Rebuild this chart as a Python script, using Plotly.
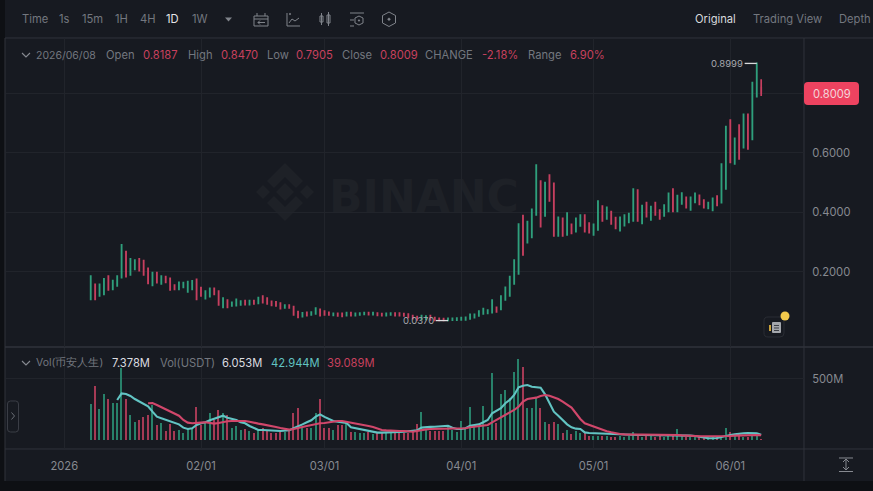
import pandas as pd
import plotly.graph_objects as go

W, H = 873, 491
BG = "#171a21"
OUTER = "#0e1014"
FRAME = "#30333b"
GRID = "#21242b"
MUTED = "#73777f"
TICK = "#878a91"
UP = "#2f9f7c"
DOWN = "#c63f5f"
VOL_UP = "#28816a"
VOL_DOWN = "#a63a55"
MA_FAST = "#62c4c3"
MA_SLOW = "#d1476b"

first_day = "2026-01-07"

# Daily candles, 2026-01-07 to 2026-06-08
open_ = [
    .1083,.1587,.1195,.1251,.1866,.1419,.1531,.181,.2683,.19,.209,.2437,.2381,.2124,.1553,.1978,
    .1598,.1844,.1788,.1564,.1419,.1486,.1329,.1419,.1754,.1475,.1106,.1173,.1452,.1363,.0815,.1061,
    .086,.0871,.0893,.1039,.0904,.1039,.0949,.1195,.1128,.1016,.0994,.096,.0792,.0893,.0837,.0669,
    .0502,.0646,.0557,.0591,.0747,.0691,.0646,.0546,.0613,.0613,.0535,.0635,.0535,.0557,.0579,.0635,
    .0568,.0624,.0602,.0535,.0557,.0624,.0624,.0602,.059,.0535,.0501,.04,.0411,.0535,.0467,.0445,
    .0434,.0372,.038,.0385,.0389,.0389,.0423,.0467,.0523,.059,.0613,.0635,.0814,.0747,.106,.1194,
    .1597,.1933,.389,.2984,.3163,.3913,.5054,.3879,.5255,.4976,.3208,.3801,.3242,.36,.3354,.3544,
    .3913,.3644,.3242,.341,.4215,.3779,.4025,.3823,.3387,.3555,.3667,.3712,.4752,.3633,.4327,.3745,
    .4327,.4081,.3879,.4036,.4785,.4036,.4282,.4506,.4081,.4338,.4573,.4416,.4137,.407,.455,.4327,
    .4785,.7101,.5624,.6933,.6172,.7291,.6452,.7884,.8187,
]
high = [
    .1866,.1587,.1587,.1766,.1866,.171,.1866,.2907,.2683,.2437,.2403,.2437,.2381,.2124,.1978,.1978,
    .1866,.1844,.1788,.1564,.1654,.1643,.1676,.1699,.1754,.1475,.1363,.1452,.1452,.1363,.1128,.1061,
    .0983,.1083,.1027,.1039,.1039,.1039,.1139,.1195,.1128,.1016,.0994,.096,.0893,.0893,.0837,.0669,
    .0625,.0646,.0658,.0792,.0747,.0691,.0646,.0613,.0613,.0613,.0635,.0635,.0613,.0624,.0635,.0635,
    .0635,.0624,.0602,.0613,.0624,.0624,.0624,.0602,.059,.0535,.0501,.0535,.0523,.0535,.0467,.0445,
    .0434,.0445,.0445,.0456,.0467,.0479,.0579,.0579,.0691,.0769,.0725,.106,.0814,.1194,.1485,.1843,
    .2403,.3611,.389,.3689,.4103,.5591,.5054,.4998,.5255,.4976,.3835,.3801,.398,.36,.3801,.3913,
    .3913,.3644,.36,.4383,.4215,.417,.4025,.3823,.3835,.3913,.3958,.4785,.4752,.4226,.4327,.4192,
    .4327,.4081,.4248,.464,.4785,.4562,.4651,.4506,.4506,.464,.4573,.4416,.4327,.4472,.455,.5624,
    .6877,.7101,.6486,.6933,.7291,.7291,.8354,.8999,.8470,
]
low = [
    .1083,.1083,.1195,.1251,.1397,.1419,.1531,.181,.1844,.19,.209,.2045,.19,.162,.1553,.1643,
    .1598,.1654,.1397,.1419,.1419,.1486,.1329,.1419,.1083,.1195,.1106,.1173,.125,.0893,.0815,.0815,
    .086,.0871,.0893,.0904,.0904,.0927,.0949,.0971,.0927,.0882,.086,.077,.0792,.0792,.0558,.0479,
    .0502,.0524,.0557,.0591,.0535,.0557,.0557,.0546,.0523,.0512,.0535,.0535,.0535,.0557,.0579,.0568,
    .0568,.0546,.0535,.0535,.0557,.0535,.0535,.0523,.0479,.0434,.0389,.04,.0411,.0389,.0372,.0375,
    .0372,.037,.038,.0385,.0389,.0389,.0423,.0467,.0523,.059,.0613,.0635,.0658,.0747,.106,.1194,
    .1597,.1933,.257,.2984,.3163,.3913,.3521,.3879,.4383,.3208,.3208,.3208,.3242,.3298,.3354,.3544,
    .3354,.332,.3242,.341,.3712,.3779,.3611,.3466,.3387,.3555,.3667,.3712,.3712,.3633,.3857,.3745,
    .3913,.3779,.3879,.4036,.4036,.4036,.4282,.4159,.4081,.4338,.4271,.4159,.4137,.407,.4237,.4327,
    .4785,.568,.5624,.5792,.6172,.6128,.6452,.7884,.7905,
]
close = [
    .1866,.1083,.1587,.1766,.1397,.171,.1866,.2907,.1844,.2437,.2403,.2045,.19,.162,.1978,.1643,
    .1866,.1654,.1397,.1419,.1654,.1643,.1676,.1699,.1083,.1195,.1363,.1452,.125,.0893,.1128,.0815,
    .0983,.1083,.1027,.0904,.1039,.0927,.1139,.0971,.0927,.0882,.086,.077,.0893,.0792,.0558,.0479,
    .0625,.0535,.0658,.0792,.0535,.0557,.0557,.0613,.0523,.0512,.0635,.0535,.0613,.0624,.0635,.0568,
    .0635,.0546,.0535,.0613,.0624,.0535,.0535,.0523,.0479,.0434,.0389,.0535,.0523,.0389,.0372,.0375,
    .0372,.0445,.0445,.0456,.0467,.0479,.0579,.0579,.0691,.0769,.0725,.106,.0658,.1194,.1485,.1843,
    .2403,.3611,.257,.3689,.4103,.5591,.3521,.4998,.4383,.3208,.3835,.3208,.398,.3298,.3801,.3913,
    .3354,.332,.36,.4383,.3712,.417,.3611,.3466,.3835,.3913,.3958,.4785,.3712,.4226,.3857,.4192,
    .3913,.3779,.4248,.464,.4036,.4562,.4651,.4159,.4506,.464,.4271,.4159,.4327,.4472,.4237,.5624,
    .6877,.568,.6486,.5792,.7291,.6128,.8354,.8999,.8009,
]

# Traded volume per day, in millions
volume = [
    292,445,251,380,333,300,306,587,336,205,145,161,191,205,287,123,137,74,131,74,82,60,101,101,
    273,123,137,219,164,246,219,205,96,115,82,90,74,60,82,101,74,60,60,68,68,82,219,260,
    109,96,101,219,336,96,96,82,123,123,137,68,63,60,60,63,46,55,55,55,55,63,63,55,
    55,63,128,232,82,74,74,74,74,123,82,68,156,96,273,109,109,279,109,546,137,374,410,341,
    560,664,596,260,260,341,260,145,128,150,128,55,82,46,74,55,55,35,30,33,30,30,28,28,
    30,28,30,63,33,28,30,33,28,30,28,33,33,90,30,28,28,30,28,28,28,25,28,33,
    95,63,33,30,28,28,33,30,7.378,
]

# Volume moving averages, each starting once its window has filled
ma_fast = [
    328,382,377,361,336,314,295,276,232,191,178,164,156,142,128,101,90,96,123,137,145,161,172,186,
    199,183,172,164,145,137,115,101,82,82,82,79,76,74,76,79,96,115,128,145,161,191,210,189,
    172,156,150,145,139,104,96,87,79,74,68,60,60,60,60,63,66,68,71,74,79,101,107,107,
    109,112,115,117,101,90,90,96,117,123,128,145,164,219,238,260,301,328,369,432,445,451,437,434,
    429,374,301,232,199,164,128,104,93,90,62,57,55,55,52,52,49,46,46,44,41,41,41,41,
    41,41,41,41,38,38,38,36,36,36,36,33,27,16,14,14,16,25,36,41,46,52,55,57,
    57,55,42.944,
]
ma_slow = [
    301,303,287,270,254,238,219,199,164,142,137,137,142,145,142,134,139,148,153,156,156,158,156,150,
    145,134,128,123,115,107,98,93,85,90,96,107,115,123,131,137,139,145,153,156,156,150,142,134,
    128,123,115,107,96,82,79,76,76,74,74,71,68,74,82,87,90,90,93,93,93,90,90,93,
    96,104,109,115,117,123,145,164,183,205,224,246,273,314,336,341,347,361,369,363,352,336,314,292,
    265,219,172,137,123,109,93,79,71,63,55,49,46,46,46,44,44,44,44,44,44,44,41,41,
    41,38,38,36,33,30,30,27,27,27,27,30,33,36,38,41,41,41,41,39.089,
]

price_ticks = [0.2, 0.4, 0.6, 0.8]
price_labels = ["0.2000", "0.4000", "0.6000", ""]
volume_ticks = [500]
volume_labels = ["500M"]
month_ticks = ["2026-01-01", "2026-02-01", "2026-03-01", "2026-04-01", "2026-05-01", "2026-06-01"]
month_labels = ["2026", "02/01", "03/01", "04/01", "05/01", "06/01"]

days = pd.date_range(first_day, periods=len(close), freq="D")
fast_days = days[len(days) - len(ma_fast):]
slow_days = days[len(days) - len(ma_slow):]
bar_colors = [VOL_UP if c >= o else VOL_DOWN for o, c in zip(open_, close)]


def px(x):
    return x / W


def py(y):
    return 1 - y / H


def pts(points, closed=False):
    d = "M" + " L".join(f"{px(x):.5f},{py(y):.5f}" for x, y in points)
    return d + (" Z" if closed else "")


def rounded(x0, y0, x1, y1, r):
    return (
        f"M{px(x0 + r):.5f},{py(y0):.5f} L{px(x1 - r):.5f},{py(y0):.5f} "
        f"Q{px(x1):.5f},{py(y0):.5f} {px(x1):.5f},{py(y0 + r):.5f} "
        f"L{px(x1):.5f},{py(y1 - r):.5f} Q{px(x1):.5f},{py(y1):.5f} {px(x1 - r):.5f},{py(y1):.5f} "
        f"L{px(x0 + r):.5f},{py(y1):.5f} Q{px(x0):.5f},{py(y1):.5f} {px(x0):.5f},{py(y1 - r):.5f} "
        f"L{px(x0):.5f},{py(y0 + r):.5f} Q{px(x0):.5f},{py(y0):.5f} {px(x0 + r):.5f},{py(y0):.5f} Z"
    )


shapes = []


def stroke(d, color=TICK, width=1.0, layer="above"):
    shapes.append(dict(type="path", path=d, xref="paper", yref="paper",
                       line=dict(color=color, width=width), layer=layer))


def fill(d, color, layer="above"):
    shapes.append(dict(type="path", path=d, xref="paper", yref="paper",
                       fillcolor=color, line=dict(width=0), layer=layer))


def diamond(cx, cy, r):
    return pts([(cx, cy - r), (cx + r, cy), (cx, cy + r), (cx - r, cy)], True)


# Window surround and pane frame
fill(pts([(0, 0), (5, 0), (5, 491), (0, 491)], True), OUTER, "below")
fill(pts([(0, 481), (873, 481), (873, 491), (0, 491)], True), OUTER, "below")
stroke(pts([(5, 38), (873, 38)]), FRAME, 1, "below")
stroke(pts([(5, 38), (5, 481)]), FRAME, 1, "below")
stroke(pts([(5, 347), (873, 347)]), FRAME, 1.5, "below")
stroke(pts([(5, 449), (873, 449)]), FRAME, 1, "below")
stroke(pts([(804, 38), (804, 481)]), FRAME, 1, "below")

# Watermark logo and wordmark
WM = "#1e2127"
cx, cy = 285, 192
fill(diamond(cx, cy, 9), WM, "below")
fill(diamond(cx - 22, cy, 7), WM, "below")
fill(diamond(cx + 22, cy, 7), WM, "below")
fill(pts([(cx, cy - 29), (cx + 18, cy - 11), (cx + 11, cy - 4), (cx, cy - 15), (cx - 11, cy - 4), (cx - 18, cy - 11)], True), WM, "below")
fill(pts([(cx, cy + 29), (cx + 18, cy + 11), (cx + 11, cy + 4), (cx, cy + 15), (cx - 11, cy + 4), (cx - 18, cy + 11)], True), WM, "below")
shapes.append(dict(type="rect", xref="paper", yref="paper", x0=px(326), x1=px(570), y0=py(215), y1=py(171),
                   line=dict(width=0), fillcolor="rgba(0,0,0,0)", layer="below",
                   label=dict(text="<b>BINANC</b>", textposition="middle left", padding=0,
                              font=dict(family="DejaVu Sans", size=44, color=WM))))

# Toolbar icons
ICON = "#80848b"
stroke(pts([(254, 16), (268, 16), (268, 26), (254, 26)], True), ICON)
stroke(pts([(254, 19), (268, 19)]), ICON)
stroke(pts([(257, 13), (257, 16)]), ICON)
stroke(pts([(265, 13), (265, 16)]), ICON)
stroke(pts([(265, 22.5), (258, 22.5)]), ICON)
stroke(pts([(260, 20.5), (258, 22.5), (260, 24.5)]), ICON)
stroke(pts([(287, 13), (287, 26), (300, 26)]), ICON)
stroke(pts([(289, 23), (292, 19), (295, 21), (299, 18)]), ICON)
fill(diamond(290, 14, 1.2), ICON)
stroke(pts([(320, 16), (323, 16), (323, 22), (320, 22)], True), ICON)
stroke(pts([(321.5, 13), (321.5, 25)]), ICON)
stroke(pts([(327, 15), (330, 15), (330, 23), (327, 23)], True), ICON)
stroke(pts([(328.5, 12), (328.5, 26)]), ICON)
stroke(pts([(350, 13), (364, 13)]), ICON)
stroke(pts([(350, 20), (354, 20)]), ICON)
stroke(pts([(350, 26), (354, 26)]), ICON)
stroke(pts([(359, 16), (363, 18), (363, 23), (359, 25), (355, 23), (355, 18)], True), ICON)
fill(diamond(359, 20.5, 1.3), ICON)
stroke(pts([(389, 12), (395.5, 15.5), (395.5, 23), (389, 26.5), (382.5, 23), (382.5, 15.5)], True), ICON)
fill(diamond(389, 19.3, 1.8), ICON)
fill(pts([(225, 17.5), (232, 17.5), (228.5, 21.5)], True), ICON)

# Collapse chevrons in the two legends
stroke(pts([(22, 53), (26, 57), (30, 53)]), TICK, 1.1)
stroke(pts([(22, 361), (26, 365), (30, 361)]), TICK, 1.1)

# Last price flag
fill(rounded(804, 82, 859, 105, 4), "#ee4360")

# Side handle, pane scaling button
stroke(rounded(7.5, 401, 18.5, 432, 3), "#3b3e46", 1)
stroke(pts([(11.5, 412.5), (14.5, 416), (11.5, 419.5)]), "#696d75", 1)
stroke(pts([(839, 458), (853, 458)]), TICK)
stroke(pts([(839, 471.5), (853, 471.5)]), TICK)
stroke(pts([(846, 459), (846, 470)]), TICK)
stroke(pts([(843, 462), (846, 459), (849, 462)]), TICK)
stroke(pts([(843, 467), (846, 470), (849, 467)]), TICK)

# Notes badge
stroke(rounded(764, 317, 784, 337, 4), "#2a2d34", 1)
fill(rounded(772, 322, 781, 333, 1), "#a4a7ac")
stroke(pts([(774, 325.5), (779, 325.5)]), "#3c3f46", 1)
stroke(pts([(774, 328), (779, 328)]), "#3c3f46", 1)
stroke(pts([(774, 330.5), (779, 330.5)]), "#3c3f46", 1)
fill(pts([(769, 325), (771, 325), (771, 331), (769, 331)], True), "#c9a13a")
shapes.append(dict(type="circle", xref="paper", yref="paper", x0=px(780.5), x1=px(789.5), y0=py(320.5), y1=py(311.5),
                   fillcolor="#f2c94c", line=dict(width=0), layer="above"))

# Extreme price markers, tied to the price scale
shapes.append(dict(type="line", xref="x", yref="y", x0="2026-06-04 06:00", x1="2026-06-07", y0=.8999, y1=.8999,
                   line=dict(color="#d9dadc", width=1.3)))
shapes.append(dict(type="line", xref="x", yref="y", x0="2026-03-26 06:00", x1="2026-03-29", y0=.037, y1=.037,
                   line=dict(color="#d9dadc", width=1.3)))

annotations = []


def text(x, y, s, color=MUTED, size=11.2, anchor="left"):
    annotations.append(dict(xref="paper", yref="paper", x=px(x), y=py(y), text=s, showarrow=False,
                            xanchor=anchor, yanchor="middle", borderpad=0,
                            font=dict(family="Inter", size=size, color=color)))


# Interval bar
for x, s, c in [(21, "Time", MUTED), (58, "1s", MUTED), (81, "15m", MUTED), (114, "1H", MUTED), (139, "4H", MUTED),
                (165, "1D", "#e4e5e7"), (191, "1W", MUTED)]:
    text(x, 19, s, c)
text(694, 19, "Original", "#d8d9dc")
text(752, 19, "Trading View", MUTED)
text(838, 19, "Depth", MUTED)

# OHLC legend
RED = "#c8415e"
text(35, 55, "2026/06/08", MUTED, 10.5)
for x, s, c in [(105, "Open", MUTED), (142, "0.8187", RED), (187, "High", MUTED),
                (220, "0.8470", RED), (266, "Low", MUTED), (295, "0.7905", RED), (341, "Close", MUTED),
                (379, "0.8009", RED), (424, "CHANGE", MUTED), (481, "-2.18%", RED), (527, "Range", MUTED),
                (569, "6.90%", RED)]:
    text(x, 55, s, c)

# Volume legend
text(35, 362.5, "Vol(币安人生)", MUTED, 10.5)
for x, s, c in [(111, "7.378M", "#dcdde0"), (159, "Vol(USDT)", MUTED),
                (221, "6.053M", "#dcdde0"), (270, "42.944M", MA_FAST), (326, "39.089M", RED)]:
    text(x, 362.5, s, c)

text(831.5, 94, "0.8009", "#f3d5da", 11.2, "center")

for when, level, s in [("2026-06-04", .8999, "0.8999"), ("2026-03-26", .037, "0.0370")]:
    annotations.append(dict(xref="x", yref="y", x=when, y=level, text=s, showarrow=False, xanchor="right",
                            yanchor="middle", borderpad=0, font=dict(family="Inter", size=9.5, color="#a6a8ad")))

fig = go.Figure()
fig.add_trace(go.Candlestick(
    x=days, open=open_, high=high, low=low, close=close, xaxis="x", yaxis="y",
    increasing=dict(line=dict(color=UP, width=1.7), fillcolor=UP),
    decreasing=dict(line=dict(color=DOWN, width=1.7), fillcolor=DOWN),
    whiskerwidth=0, showlegend=False,
))
fig.add_trace(go.Bar(
    x=days, y=volume, xaxis="x2", yaxis="y2", width=0.3 * 86400000,
    marker=dict(color=bar_colors, line=dict(width=0)), showlegend=False,
))
fig.add_trace(go.Scatter(x=fast_days, y=ma_fast, xaxis="x2", yaxis="y2", mode="lines",
                         line=dict(color=MA_FAST, width=2.1), showlegend=False))
fig.add_trace(go.Scatter(x=slow_days, y=ma_slow, xaxis="x2", yaxis="y2", mode="lines",
                         line=dict(color=MA_SLOW, width=2.1), showlegend=False))

x_range = ["2025-12-18 19:00", "2026-06-17 17:00"]
x_domain = [px(6), px(804)]
fig.update_layout(
    width=W, height=H, autosize=False, margin=dict(l=0, r=0, t=0, b=0),
    paper_bgcolor=BG, plot_bgcolor=BG, showlegend=False, boxgap=0.95, bargap=0,
    font=dict(family="Inter", color=TICK),
    xaxis=dict(domain=x_domain, range=x_range, type="date", anchor="y", rangeslider=dict(visible=False),
               tickvals=month_ticks, ticktext=[""] * 6, showgrid=True, gridcolor=GRID, gridwidth=1,
               zeroline=False, showline=False, ticks=""),
    yaxis=dict(domain=[py(347), py(38)], range=[-0.0517, 0.9852], side="right", anchor="x",
               tickvals=price_ticks, ticktext=price_labels, showgrid=True, gridcolor=GRID, gridwidth=1,
               zeroline=False, showline=False, ticks="outside", ticklen=5, tickcolor="rgba(0,0,0,0)",
               tickfont=dict(family="Inter", size=11.2, color=TICK)),
    xaxis2=dict(domain=x_domain, range=x_range, type="date", anchor="y2",
                tickvals=month_ticks, ticktext=month_labels, showgrid=True, gridcolor=GRID, gridwidth=1,
                zeroline=False, showline=False, ticks="outside", ticklen=7, tickcolor="rgba(0,0,0,0)",
                tickfont=dict(family="Inter", size=11.2, color=TICK)),
    yaxis2=dict(domain=[py(449), py(348)], range=[-74, 754], side="right", anchor="x2",
                tickvals=volume_ticks, ticktext=volume_labels, showgrid=True, gridcolor=GRID, gridwidth=1,
                zeroline=False, showline=False, ticks="outside", ticklen=5, tickcolor="rgba(0,0,0,0)",
                tickfont=dict(family="Inter", size=11.2, color=TICK)),
    shapes=shapes, annotations=annotations,
)

fig.write_html("out.html", config=dict(displayModeBar=False))
